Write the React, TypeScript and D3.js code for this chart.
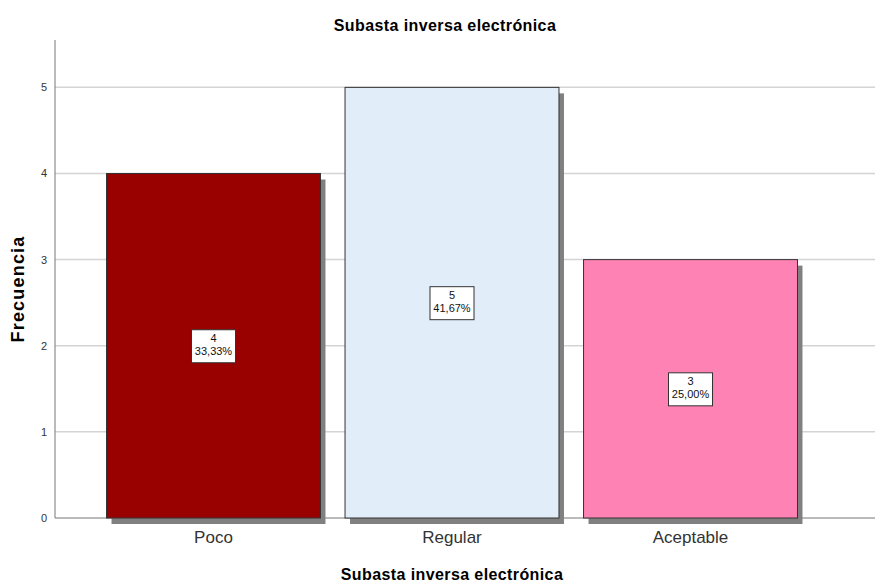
import React, { useEffect, useRef } from 'react';
import * as d3 from 'd3';

const categories = ['Poco', 'Regular', 'Aceptable'];
const counts = [4, 5, 3];
const percents = ['33,33%', '41,67%', '25,00%'];
const colors = ['#990000', '#e2edfa', '#ff82b4'];
const yTicks = [0, 1, 2, 3, 4, 5];

function App() {
  const ref = useRef<SVGSVGElement>(null);

  useEffect(() => {
    const svg = d3.select(ref.current);
    svg.selectAll('*').remove();

    const width = 875;
    const left = 55, top = 40, bottom = 518;
    const font = 'Arial, "Liberation Sans", sans-serif';

    const x = d3.scaleBand<string>()
      .domain(categories)
      .range([left, 849])
      .paddingInner(0.103)
      .paddingOuter(0.216);

    const y = d3.scaleLinear()
      .domain([0, 5.55])
      .range([bottom, top]);

    // gridlines
    svg.append('g')
      .selectAll('line')
      .data(yTicks.filter(d => d > 0))
      .join('line')
      .attr('x1', left).attr('x2', width)
      .attr('y1', d => y(d)).attr('y2', d => y(d))
      .attr('stroke', '#d4d4d4').attr('stroke-width', 1.5);

    // axes lines
    svg.append('line')
      .attr('x1', left).attr('x2', left)
      .attr('y1', top).attr('y2', bottom)
      .attr('stroke', '#777').attr('stroke-width', 1);
    svg.append('line')
      .attr('x1', left).attr('x2', width)
      .attr('y1', bottom).attr('y2', bottom)
      .attr('stroke', '#777').attr('stroke-width', 1);

    svg.append('g')
      .selectAll('text')
      .data(yTicks)
      .join('text')
      .attr('x', left - 8)
      .attr('y', d => y(d) + 4)
      .attr('text-anchor', 'end')
      .attr('font-family', font)
      .attr('font-size', 11)
      .attr('fill', '#333')
      .text(d => d);

    const idx = categories.map((c, i) => i);

    // shadows
    svg.append('g')
      .selectAll('rect')
      .data(idx)
      .join('rect')
      .attr('x', i => x(categories[i])! + 5)
      .attr('y', i => y(counts[i]) + 6)
      .attr('width', x.bandwidth())
      .attr('height', i => bottom - y(counts[i]))
      .attr('fill', '#808080');

    // bars
    svg.append('g')
      .selectAll('rect')
      .data(idx)
      .join('rect')
      .attr('x', i => x(categories[i])!)
      .attr('y', i => y(counts[i]))
      .attr('width', x.bandwidth())
      .attr('height', i => bottom - y(counts[i]))
      .attr('fill', i => colors[i])
      .attr('stroke', '#333')
      .attr('stroke-width', 1);

    // value labels
    const lab = svg.append('g')
      .selectAll('g')
      .data(idx)
      .join('g')
      .attr('transform', i => `translate(${x(categories[i])! + x.bandwidth() / 2},${y(counts[i] / 2)})`);
    lab.append('rect')
      .attr('x', -22).attr('y', -16)
      .attr('width', 44).attr('height', 33)
      .attr('fill', '#fff').attr('stroke', '#333');
    lab.append('text')
      .attr('y', -4)
      .attr('text-anchor', 'middle')
      .attr('font-family', font).attr('font-size', 11).attr('fill', '#111')
      .text(i => counts[i]);
    lab.append('text')
      .attr('y', 9)
      .attr('text-anchor', 'middle')
      .attr('font-family', font).attr('font-size', 11).attr('fill', '#111')
      .text(i => percents[i]);

    // category labels
    svg.append('g')
      .selectAll('text')
      .data(categories)
      .join('text')
      .attr('x', d => x(d)! + x.bandwidth() / 2)
      .attr('y', 543)
      .attr('text-anchor', 'middle')
      .attr('font-family', font)
      .attr('font-size', 17)
      .attr('fill', '#333')
      .text(d => d);

    // titles
    svg.append('text')
      .attr('x', 445).attr('y', 31)
      .attr('text-anchor', 'middle')
      .attr('font-family', font).attr('font-size', 16).attr('font-weight', 'bold')
      .attr('letter-spacing', 0.4)
      .text('Subasta inversa electrónica');

    svg.append('text')
      .attr('x', 452).attr('y', 580)
      .attr('text-anchor', 'middle')
      .attr('font-family', font).attr('font-size', 16).attr('font-weight', 'bold')
      .attr('letter-spacing', 0.4)
      .text('Subasta inversa electrónica');

    svg.append('text')
      .attr('transform', 'translate(24,289) rotate(-90)')
      .attr('text-anchor', 'middle')
      .attr('font-family', font).attr('font-size', 18).attr('font-weight', 'bold')
      .attr('letter-spacing', 1.2)
      .text('Frecuencia');
  }, []);

  return (
    <svg ref={ref} width={875} height={582}
      style={{ position: 'absolute', left: 0, top: 0, background: '#fff' }} />
  );
}

export default App;
